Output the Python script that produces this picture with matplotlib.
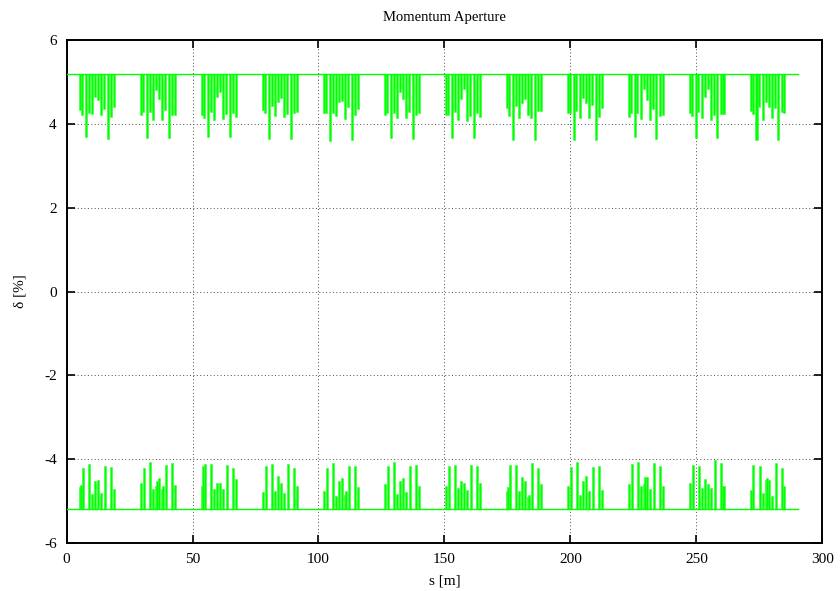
import numpy as np
import matplotlib.pyplot as plt

plt.rcParams['font.family'] = ['Liberation Serif', 'DejaVu Serif']
plt.rcParams['axes.unicode_minus'] = False

### lattice: 12 identical cells, aperture sampled at elements
ring_length = 290.4
cell_length = 24.2
first_cell = 4.96
n_cells = 12
ap_edge = 5.2  # nominal aperture [%]

# element offsets inside a cell [m]
top_offsets = [0.0, 0.95, 2.3, 3.45, 4.7, 5.9, 7.2, 8.4, 9.65, 11.0, 12.25, 13.4]
bot_offsets = [0.0, 0.5, 1.1, 3.5, 4.9, 5.9, 6.5, 7.3, 8.3, 8.8, 9.9, 12.3, 13.4]

# positive momentum aperture per cell [%]
top_vals = [
    [4.33, 4.22, 3.68, 4.25, 4.24, 4.65, 4.56, 4.20, 4.36, 3.64, 4.16, 4.40],
    [4.22, 4.28, 3.66, 4.28, 4.09, 4.81, 4.60, 4.09, 4.33, 3.66, 4.22, 4.22],
    [4.20, 4.14, 3.68, 4.28, 4.09, 4.65, 4.76, 4.12, 4.24, 3.69, 4.25, 4.16],
    [4.33, 4.25, 3.65, 4.42, 4.18, 4.52, 4.62, 4.16, 4.24, 3.65, 4.25, 4.28],
    [4.27, 4.27, 3.58, 4.27, 4.19, 4.53, 4.55, 4.11, 4.41, 3.61, 4.22, 4.35],
    [4.21, 4.25, 3.67, 4.25, 4.13, 4.77, 4.59, 4.13, 4.29, 3.65, 4.21, 4.25],
    [4.22, 4.21, 3.66, 4.29, 4.10, 4.60, 4.83, 4.07, 4.19, 3.67, 4.25, 4.17],
    [4.37, 4.19, 3.61, 4.43, 4.15, 4.50, 4.60, 4.21, 4.15, 3.61, 4.30, 4.30],
    [4.27, 4.27, 3.61, 4.31, 4.15, 4.62, 4.50, 4.15, 4.45, 3.61, 4.17, 4.37],
    [4.16, 4.27, 3.69, 4.27, 4.11, 4.83, 4.57, 4.10, 4.35, 3.65, 4.19, 4.21],
    [4.27, 4.19, 3.67, 4.29, 4.13, 4.64, 4.84, 4.10, 4.22, 3.67, 4.23, 4.23],
    [4.31, 4.23, 3.61, 4.41, 4.09, 4.53, 4.41, 4.15, 4.37, 3.61, 4.29, 4.25],
]

# negative momentum aperture per cell [%] (nan = no reduction)
nan = np.nan
bot_vals = [
    [-4.66, -4.62, -4.20, -4.12, -4.84, -4.52, nan, -4.49, -4.80, nan, -4.16, -4.19, -4.72],
    [-4.57, nan, -4.20, -4.06, -4.72, -4.64, -4.52, -4.46, -4.72, -4.65, -4.14, -4.08, -4.62],
    [-4.64, -4.16, -4.12, -4.12, -4.70, -4.57, nan, -4.57, -4.72, nan, -4.14, -4.20, -4.48],
    [-4.79, nan, -4.17, -4.12, -4.76, -4.40, nan, -4.56, -4.80, nan, -4.12, -4.20, -4.64],
    [-4.75, nan, -4.21, -4.08, -4.88, -4.53, nan, -4.45, -4.85, -4.76, -4.17, -4.16, -4.67],
    [-4.59, nan, -4.17, -4.07, -4.83, -4.52, nan, -4.45, -4.79, nan, -4.17, -4.13, -4.64],
    [-4.64, nan, -4.16, -4.13, -4.69, -4.52, nan, -4.56, -4.73, nan, -4.15, -4.17, -4.57],
    [-4.76, -4.67, -4.15, -4.15, -4.77, -4.42, nan, -4.53, -4.91, -4.85, -4.08, -4.22, -4.59],
    [-4.64, nan, -4.19, -4.06, -4.85, -4.53, nan, -4.40, -4.76, nan, -4.19, -4.16, -4.73],
    [-4.59, nan, -4.11, -4.06, -4.65, -4.59, -4.43, -4.42, -4.72, nan, -4.08, -4.17, -4.64],
    [-4.56, nan, -4.13, -4.16, -4.69, -4.47, nan, -4.59, -4.69, nan, -4.03, -4.10, -4.64],
    [-4.73, nan, -4.13, -4.16, -4.80, -4.50, -4.46, -4.50, -4.88, nan, -4.08, -4.21, -4.64],
]

xticks = [0, 50, 100, 150, 200, 250, 300]
yticks = [-6, -4, -2, 0, 2, 4, 6]

### build s positions
s_top, v_top, s_bot, v_bot = [], [], [], []
for k in range(n_cells):
    start = first_cell + k * cell_length
    for o, v in zip(top_offsets, top_vals[k]):
        s_top.append(start + o)
        v_top.append(v)
    for o, v in zip(bot_offsets, bot_vals[k]):
        if not np.isnan(v):
            s_bot.append(start + o)
            v_bot.append(v)
s_top = np.array(s_top)
v_top = np.array(v_top)
s_bot = np.array(s_bot)
v_bot = np.array(v_bot)

### plot
green = '#00ff00'
fig = plt.figure(figsize=(8.4, 5.91), dpi=100)
ax = fig.add_axes([0.0792, 0.0812, 0.8998, 0.8511])

ax.bar(s_top, v_top - ap_edge, bottom=ap_edge, width=0.8, align='edge',
       color=green, edgecolor='#33ff33', linewidth=0.4, zorder=3)
ax.bar(s_bot, v_bot + ap_edge, bottom=-ap_edge, width=0.8, align='edge',
       color=green, edgecolor='#33ff33', linewidth=0.4, zorder=3)
ax.plot([0, ring_length], [ap_edge, ap_edge], color=green, lw=1.0, zorder=3)
ax.plot([0, ring_length], [-ap_edge, -ap_edge], color=green, lw=1.0, zorder=3)

ax.set_xlim(0, 300)
ax.set_ylim(-6, 6)
ax.set_xticks(xticks)
ax.set_yticks(yticks)
ax.grid(True, color='0.3', linestyle=(0, (1, 2.5)), linewidth=0.7, zorder=1)
ax.tick_params(direction='in', length=6, width=1.2, top=True, right=True,
               labelsize=11, pad=7)
for sp in ax.spines.values():
    sp.set_linewidth(1.4)

ax.set_title('Momentum Aperture', fontsize=10.5, pad=14)
ax.set_xlabel('s [m]', fontsize=11, labelpad=6)
ax.set_ylabel('δ [%]', fontsize=11, labelpad=13)

plt.savefig('out.png', dpi=100)
